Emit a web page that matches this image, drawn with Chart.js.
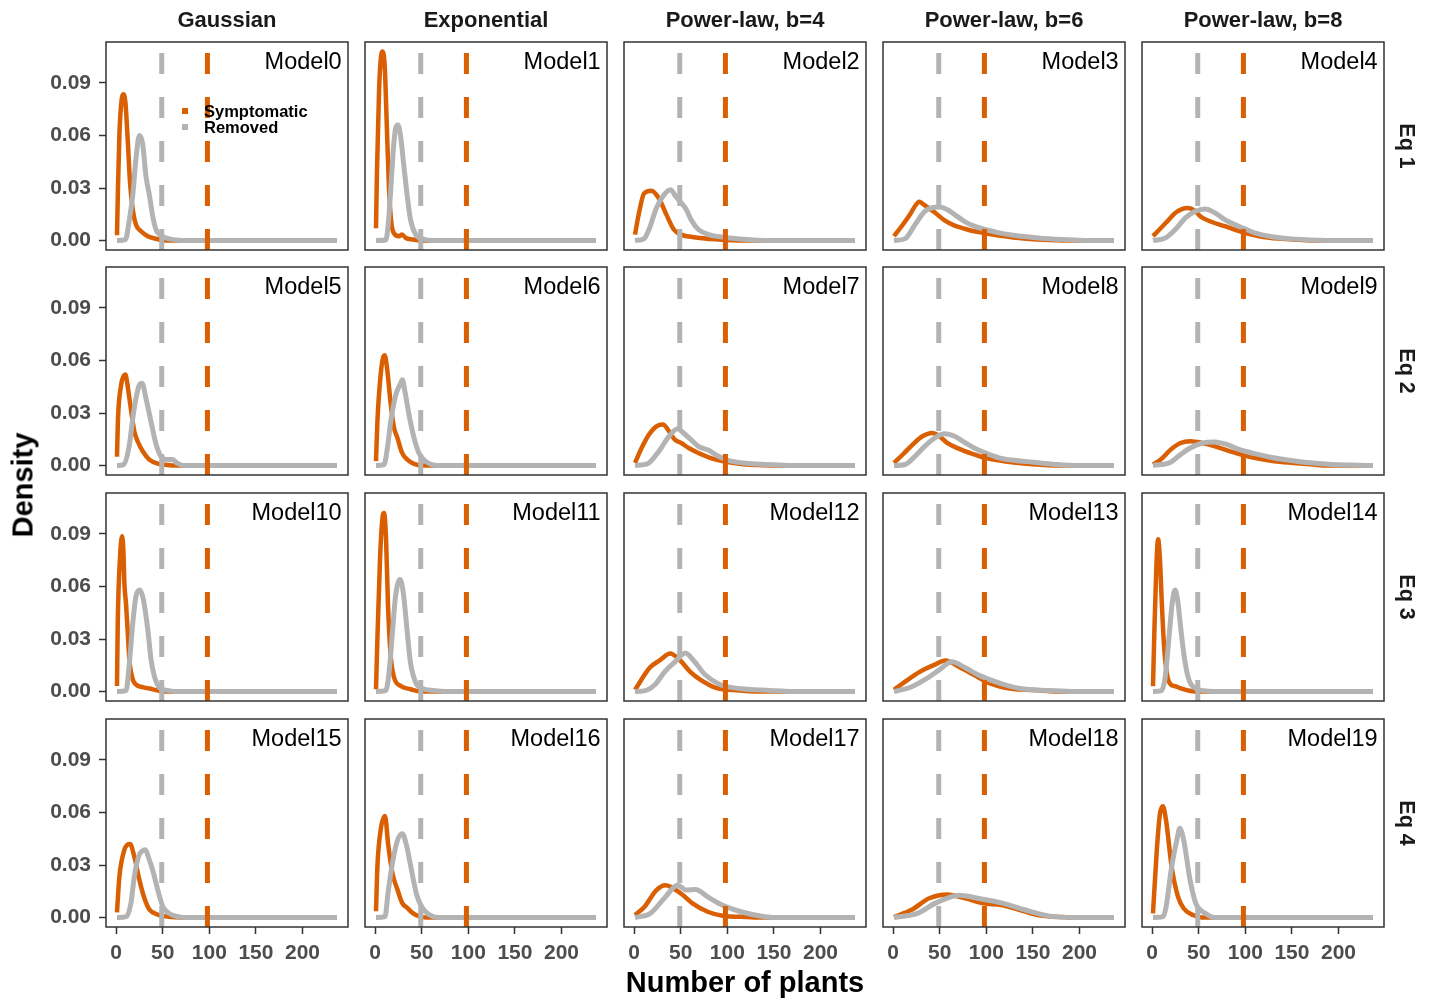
<!DOCTYPE html>
<html><head><meta charset="utf-8">
<script src="https://cdn.jsdelivr.net/npm/chart.js@4.4.0/dist/chart.umd.min.js"></script>
<style>
html,body{margin:0;padding:0;background:#fff;}
body{width:1429px;height:999px;position:relative;overflow:hidden;font-family:"Liberation Sans",Arial,sans-serif;}
canvas{position:absolute;}
.t{position:absolute;white-space:nowrap;}
</style></head><body>
<script>
// ---------- data ----------
const colTitles = ["Gaussian", "Exponential", "Power-law, b=4", "Power-law, b=6", "Power-law, b=8"];
const rowTitles = ["Eq 1", "Eq 2", "Eq 3", "Eq 4"];
const modelNames = ["Model0","Model1","Model2","Model3","Model4","Model5","Model6","Model7","Model8","Model9",
  "Model10","Model11","Model12","Model13","Model14","Model15","Model16","Model17","Model18","Model19"];
const seriesNames = ["Symptomatic", "Removed"];
const xTicks = [0, 50, 100, 150, 200];
const yTicks = [0, 0.03, 0.06, 0.09];
const xLimits = [-10.8, 248.8];
const yLimits = [-0.0054, 0.1134];
const removedThreshold = 49;
const symptomaticThreshold = 98;

// [number of plants, density]
const sym0 = [[1,0.003],[2,0.029],[3.6,0.061],[5.7,0.079],[7.9,0.0835],[10,0.079],[12.5,0.0575],[15,0.033],[17.9,0.0177],[21.4,0.009],[26.8,0.0053],[34,0.0025],[43,0.001],[54,0],[237,0]];
const rem0 = [[1,0],[10,0.0005],[14.3,0.012],[17.9,0.026],[21.4,0.047],[25,0.06],[28.6,0.055],[32,0.037],[35.7,0.026],[39.3,0.014],[43,0.006],[48,0.003],[55,0.0012],[65,0.0003],[75,0],[237,0]];
const sym1 = [[1,0.007],[2,0.0385],[4.3,0.086],[6,0.103],[7.9,0.108],[10.4,0.099],[12.5,0.067],[15,0.029],[17.5,0.010],[20,0.0044],[25.7,0.0025],[29,0.0034],[33,0.0015],[40,0.0006],[49,0],[237,0]];
const rem1 = [[1,0],[11.4,0.0003],[13.9,0.008],[16.8,0.029],[19.6,0.052],[22,0.064],[24.6,0.066],[27.5,0.059],[31,0.042],[34.6,0.025],[38,0.012],[43.6,0.0034],[50.7,0.001],[63,0],[237,0]];
const sym2 = [[1,0.0034],[5,0.015],[10.8,0.027],[18.7,0.0285],[26.7,0.024],[34.7,0.0148],[42.6,0.0063],[50.6,0.0034],[63.9,0.0019],[90.4,0.0006],[117,0],[237,0]];
const rem2 = [[1,0],[10.8,0.0011],[16,0.0063],[24,0.0186],[32,0.026],[39,0.029],[45,0.025],[50.6,0.0215],[56,0.0177],[61,0.012],[69,0.0063],[80,0.0034],[96,0.0019],[117,0.0008],[143.6,0],[237,0]];
const sym3 = [[1,0.0025],[10.4,0.009],[18.3,0.015],[24,0.02],[28,0.0222],[33,0.0205],[38,0.0186],[44.8,0.016],[55.3,0.0115],[66,0.0085],[76.5,0.0068],[87,0.0053],[98.7,0.0042],[113.5,0.0028],[129,0.0018],[150.6,0.0008],[175,0.0002],[190,0],[237,0]];
const rem3 = [[1,0],[13,0.0011],[23.6,0.0091],[34,0.0167],[44.8,0.019],[50,0.0192],[58,0.0177],[66,0.0148],[76.5,0.011],[87,0.0082],[98.7,0.0063],[113.5,0.0044],[129,0.003],[156,0.0015],[182,0.0006],[209,0],[237,0]];
const sym4 = [[1,0.0025],[14.6,0.01],[25,0.0158],[32,0.018],[38.4,0.0186],[46,0.017],[51.6,0.0139],[62,0.011],[78,0.0082],[99,0.0044],[115,0.0025],[136,0.0011],[157,0.0004],[175,0],[237,0]];
const rem4 = [[1,0],[14.6,0.0015],[25,0.0063],[35.8,0.0129],[46.4,0.0167],[57,0.018],[67.5,0.0158],[78,0.012],[88.7,0.0091],[99,0.0068],[110,0.0044],[125.7,0.0025],[146.9,0.0011],[178.6,0.0002],[200,0],[237,0]];
const sym5 = [[1,0.005],[2,0.026],[5.4,0.046],[8,0.051],[10,0.052],[12,0.047],[14.3,0.0385],[19.6,0.0195],[23,0.014],[28.6,0.0082],[35.7,0.0034],[44.6,0.0011],[55,0.0003],[65,0],[237,0]];
const rem5 = [[1,0],[8,0.0005],[14.3,0.012],[17.9,0.027],[21.4,0.0385],[25,0.046],[27.9,0.047],[32,0.0385],[37.5,0.025],[43,0.012],[48,0.0053],[53.6,0.0034],[60.7,0.0034],[66,0.0012],[72,0],[237,0]];
const sym6 = [[1,0.0025],[2.5,0.025],[6,0.052],[9,0.0623],[10.4,0.063],[13.2,0.054],[16.8,0.035],[20.4,0.0215],[24,0.0158],[29,0.0072],[34.6,0.0034],[41.8,0.001],[52.5,0],[237,0]];
const rem6 = [[1,0],[9.6,0.0005],[13.2,0.010],[16.8,0.025],[22,0.040],[27.5,0.047],[29.3,0.049],[31.8,0.043],[36.4,0.029],[41.8,0.0158],[47,0.0072],[54,0.0025],[66.8,0],[237,0]];
const sym7 = [[1,0.0015],[8.1,0.01],[16,0.0177],[24,0.0224],[31,0.0234],[37.4,0.0196],[43.7,0.0148],[50.6,0.0129],[58.6,0.01],[69,0.0072],[85,0.0038],[98.4,0.0021],[117,0.0008],[138,0.0002],[150,0],[237,0]];
const rem7 = [[1,0],[10,0.0005],[16,0.0015],[26.7,0.0082],[37.4,0.0167],[47,0.021],[53,0.0186],[61,0.0148],[69,0.011],[80,0.0087],[90.5,0.0053],[101,0.003],[117,0.0015],[143.6,0.0006],[170,0],[237,0]];
const sym8 = [[1,0.0015],[10.4,0.0063],[21,0.012],[31.5,0.0167],[42,0.0186],[50,0.0167],[58,0.0129],[71,0.0095],[84.4,0.0068],[98.7,0.0044],[118.8,0.0025],[140,0.0011],[161,0.0003],[175,0],[237,0]];
const rem8 = [[1,0],[13,0.0006],[23.6,0.0053],[34,0.011],[44.8,0.0158],[55,0.0182],[66,0.0167],[76.5,0.0133],[87,0.01],[98.7,0.0072],[113.5,0.0044],[129,0.003],[150.6,0.0019],[172,0.0008],[198,0],[237,0]];
const sym9 = [[1,0.0006],[9.3,0.0034],[20,0.0091],[30.5,0.0129],[41,0.0139],[54,0.0129],[67.5,0.011],[83,0.0082],[99,0.0057],[115,0.0038],[131,0.0025],[152,0.0015],[173,0.0006],[189,0],[237,0]];
const rem9 = [[1,0],[20,0.0019],[30.5,0.0063],[41,0.01],[54,0.0129],[67.5,0.0135],[80.7,0.012],[94,0.0091],[110,0.0068],[125.7,0.0049],[141.6,0.0034],[163,0.0019],[189,0.0008],[221,0.0002],[237,0]];
const sym10 = [[1,0.0032],[1.8,0.039],[4.3,0.077],[6.4,0.0887],[7.9,0.08],[8.9,0.062],[10.7,0.05],[12.5,0.034],[14.3,0.018],[17.9,0.007],[21.4,0.004],[28.6,0.0025],[35.7,0.0017],[43,0.0008],[50,0],[237,0]];
const rem10 = [[1,0],[10.7,0.0005],[14.3,0.0165],[17.9,0.039],[21.4,0.0545],[25.7,0.058],[29.3,0.0526],[34,0.0355],[37.5,0.0184],[41,0.0089],[46.4,0.0023],[53.6,0.0008],[64,0],[237,0]];
const sym11 = [[1,0.0013],[2.5,0.030],[5.4,0.077],[7.9,0.099],[9.6,0.102],[11.8,0.0868],[13.9,0.0488],[16.8,0.0203],[20.4,0.008],[27.5,0.0032],[38,0.0013],[49,0],[237,0]];
const rem11 = [[1,0],[11.4,0.0005],[15,0.0108],[18.6,0.0336],[22,0.0545],[26.8,0.064],[30.4,0.056],[33.9,0.0374],[38,0.0165],[43.6,0.0051],[50.7,0.0017],[63,0.0006],[74,0],[237,0]];
const sym12 = [[1,0.001],[17,0.0137],[28,0.018],[38.6,0.0217],[49,0.018],[60,0.0114],[71,0.0068],[87,0.0023],[113,0.0006],[130,0],[237,0]];
const rem12 = [[1,0],[12,0.0005],[22.5,0.004],[33,0.0114],[44,0.017],[55,0.022],[65,0.017],[76,0.0097],[92,0.004],[113,0.0017],[146,0.0006],[170,0],[237,0]];
const sym13 = [[1,0.001],[13,0.0057],[29,0.0114],[45,0.0154],[56,0.0177],[72,0.0137],[88,0.0091],[104,0.0046],[125,0.0017],[158,0.0006],[180,0],[237,0]];
const rem13 = [[1,0],[18,0.0023],[34,0.0068],[50,0.0125],[63,0.017],[77,0.0137],[93,0.0091],[115,0.0046],[136,0.0017],[168,0.0006],[195,0],[237,0]];
const sym14 = [[1,0.003],[2.5,0.035],[4.5,0.07],[6.5,0.087],[8.5,0.075],[10.5,0.05],[13,0.025],[16,0.01],[20,0.004],[25,0.003],[30,0.002],[40,0.0005],[55,0],[237,0]];
const rem14 = [[1,0],[10,0.0005],[14,0.008],[18,0.03],[21.5,0.05],[24.6,0.058],[27.5,0.052],[31,0.035],[35,0.018],[40,0.006],[46,0.002],[55,0.0005],[65,0],[237,0]];
const sym15 = [[1,0.003],[3.6,0.0235],[8.9,0.0387],[12,0.0415],[15,0.042],[19.6,0.0347],[25,0.0215],[30.4,0.011],[35.7,0.0046],[44.6,0.0017],[57,0.0004],[71,0],[237,0]];
const rem15 = [[1,0],[11,0.0005],[16,0.0084],[19.6,0.0235],[24.3,0.035],[28,0.038],[31.4,0.0387],[35,0.034],[39.3,0.027],[44.6,0.016],[50,0.0065],[57,0.0023],[68,0.0004],[75,0],[237,0]];
const sym16 = [[1,0.0036],[2.5,0.029],[6,0.050],[10.7,0.058],[13.9,0.0425],[18.6,0.0254],[24,0.016],[29,0.0084],[34.6,0.0055],[40,0.0027],[49,0.0004],[56,0],[237,0]];
const rem16 = [[1,0],[10.7,0.0005],[13.9,0.014],[18.6,0.031],[24,0.044],[29.3,0.0478],[34,0.0406],[39,0.0273],[44.6,0.013],[50.7,0.0055],[57.9,0.0017],[68.6,0],[237,0]];
const sym17 = [[1,0.0014],[11,0.006],[24,0.0157],[33.6,0.0185],[50,0.0138],[62.7,0.0081],[79,0.0033],[95,0.001],[121,0.0003],[140,0],[237,0]];
const rem17 = [[1,0],[17.5,0.0024],[33.6,0.0118],[46.6,0.0185],[56,0.0157],[66,0.016],[79,0.0118],[95,0.007],[114.5,0.0033],[140,0.0005],[160,0],[237,0]];
const sym18 = [[1,0.0003],[19.4,0.0043],[38.8,0.011],[58,0.0132],[77.6,0.011],[97,0.0081],[116.4,0.0071],[136,0.0043],[155,0.0014],[181,0.0003],[200,0],[237,0]];
const rem18 = [[1,0],[26,0.0024],[45,0.0081],[71,0.0128],[90.6,0.011],[116.4,0.0084],[142,0.0043],[168,0.0008],[194,0],[237,0]];
const sym19 = [[1,0.0024],[5,0.038],[8.4,0.059],[11.6,0.0635],[15,0.0555],[21,0.029],[27.8,0.012],[34,0.0052],[44,0.0014],[53.7,0],[237,0]];
const rem19 = [[1,0],[12,0.0005],[15,0.006],[21,0.029],[26.5,0.044],[29.8,0.051],[34,0.044],[40.8,0.0213],[47,0.008],[57,0.0024],[66.6,0],[237,0]];

const symptomatic = [sym0,sym1,sym2,sym3,sym4,sym5,sym6,sym7,sym8,sym9,sym10,sym11,sym12,sym13,sym14,sym15,sym16,sym17,sym18,sym19];
const removed = [rem0,rem1,rem2,rem3,rem4,rem5,rem6,rem7,rem8,rem9,rem10,rem11,rem12,rem13,rem14,rem15,rem16,rem17,rem18,rem19];

// ---------- style / layout ----------
const ORANGE = "#D95F02";
const GRAY = "#B3B3B3";
const FONT = "'Liberation Sans', Arial, Helvetica, sans-serif";
const LEFTS = [106, 365, 624, 883, 1142];
const TOPS = [42, 267, 493, 719];
const W = 242, H = 208, L = 70, B = 50, PAD = 2;

const panelBorder = {
  id: 'panelBorder',
  afterDatasetsDraw(chart) {
    const {ctx, chartArea: a} = chart;
    ctx.save();
    ctx.strokeStyle = '#333333';
    ctx.lineWidth = 1.5;
    ctx.strokeRect(a.left, a.top, a.right - a.left, a.bottom - a.top);
    ctx.restore();
  }
};

function addText(txt, css) {
  const d = document.createElement('div');
  d.className = 't';
  d.textContent = txt;
  Object.assign(d.style, css);
  document.body.appendChild(d);
  return d;
}

function toPts(arr) { return arr.map(p => ({x: p[0], y: p[1]})); }

for (let r = 0; r < 4; r++) {
  for (let c = 0; c < 5; c++) {
    const i = r * 5 + c;
    const cv = document.createElement('canvas');
    cv.width = L + W + PAD; cv.height = PAD + H + B;
    cv.style.left = (LEFTS[c] - L) + 'px';
    cv.style.top = (TOPS[r] - PAD) + 'px';
    cv.style.width = cv.width + 'px'; cv.style.height = cv.height + 'px';
    document.body.appendChild(cv);
    const bottomRow = r === 3, firstCol = c === 0;
    const tickFont = {family: FONT, size: 21, weight: 'bold'};
    new Chart(cv.getContext('2d'), {
      type: 'line',
      data: {
        datasets: [
          {label: 'Removed threshold', data: [{x: removedThreshold, y: yLimits[0]}, {x: removedThreshold, y: yLimits[1]}],
           borderColor: GRAY, borderWidth: 5, borderDash: [21, 23], pointRadius: 0, tension: 0},
          {label: 'Symptomatic threshold', data: [{x: symptomaticThreshold, y: yLimits[0]}, {x: symptomaticThreshold, y: yLimits[1]}],
           borderColor: ORANGE, borderWidth: 5, borderDash: [21, 23], pointRadius: 0, tension: 0},
          {label: seriesNames[1], data: toPts(removed[i]), borderColor: GRAY, borderWidth: 5,
           pointRadius: 0, cubicInterpolationMode: 'monotone', borderJoinStyle: 'round', borderCapStyle: 'butt'},
          {label: seriesNames[0], data: toPts(symptomatic[i]), borderColor: ORANGE, borderWidth: 4.5,
           pointRadius: 0, cubicInterpolationMode: 'monotone', borderJoinStyle: 'round', borderCapStyle: 'butt'}
        ]
      },
      options: {
        responsive: false, animation: false, devicePixelRatio: 1, events: [],
        layout: {padding: {top: PAD, right: PAD, left: 0, bottom: 0}},
        plugins: {legend: {display: false}, tooltip: {enabled: false}, title: {display: false}},
        scales: {
          x: {
            type: 'linear', min: xLimits[0], max: xLimits[1],
            afterFit: s => { s.height = B; s.paddingLeft = 0; s.paddingRight = 0; s.paddingTop = 0; s.paddingBottom = 0; },
            afterBuildTicks: s => { s.ticks = xTicks.map(v => ({value: v})); },
            border: {display: false},
            grid: {display: bottomRow, drawOnChartArea: false, drawTicks: true, tickLength: 7, tickColor: '#333333', tickWidth: 1.5},
            ticks: {display: bottomRow, font: tickFont, color: '#4D4D4D', padding: 7, maxRotation: 0, minRotation: 0,
                    autoSkip: false, callback: v => String(v)}
          },
          y: {
            type: 'linear', min: yLimits[0], max: yLimits[1],
            afterFit: s => { s.width = L; s.paddingTop = 0; s.paddingBottom = 0; s.paddingLeft = 0; s.paddingRight = 0; },
            afterBuildTicks: s => { s.ticks = yTicks.map(v => ({value: v})); },
            border: {display: false},
            grid: {display: firstCol, drawOnChartArea: false, drawTicks: true, tickLength: 7, tickColor: '#333333', tickWidth: 1.5},
            ticks: {display: firstCol, font: tickFont, color: '#4D4D4D', padding: 8, autoSkip: false,
                    callback: v => Number(v).toFixed(2)}
          }
        }
      },
      plugins: [panelBorder]
    });
    // model label
    addText(modelNames[i], {left: (LEFTS[c] + W - 6.3 - 200) + 'px', width: '200px', textAlign: 'right',
      top: (TOPS[r] + 8.4) + 'px', fontSize: '23.5px', lineHeight: '23.5px', color: '#000'});
  }
}

// column strip titles
colTitles.forEach((t, c) => {
  addText(t, {left: (LEFTS[c] + W / 2 - 150) + 'px', width: '300px', textAlign: 'center', top: '8.7px',
    fontSize: '22px', lineHeight: '22px', fontWeight: 'bold', color: '#1A1A1A'});
});
// row strip titles
rowTitles.forEach((t, r) => {
  addText(t, {left: '1406px', top: (TOPS[r] + H / 2) + 'px', fontSize: '21.5px', lineHeight: '21.5px',
    fontWeight: 'bold', color: '#1A1A1A', transform: 'translate(-50%,-50%) rotate(90deg)'});
});
// axis titles
addText('Density', {left: '23px', top: '485px', fontSize: '29px', lineHeight: '29px', fontWeight: 'bold',
  color: '#000', transform: 'translate(-50%,-50%) rotate(-90deg)'});
addText('Number of plants', {left: '595px', width: '300px', textAlign: 'center', top: '968.2px', fontSize: '29px',
  lineHeight: '29px', fontWeight: 'bold', color: '#000'});

// legend (inside first panel)
const legendColors = [ORANGE, GRAY];
seriesNames.forEach((n, k) => {
  const key = document.createElement('div');
  Object.assign(key.style, {position: 'absolute', left: '181.5px', top: (107.7 + k * 15.8) + 'px', width: '6.8px', height: '6.8px',
    background: legendColors[k]});
  document.body.appendChild(key);
  addText(n, {left: '204px', top: (117.3 + k * 16 - 14) + 'px', fontSize: '16.5px', lineHeight: '16.5px',
    fontWeight: 'bold', color: '#000'});
});
</script>
</body></html>
